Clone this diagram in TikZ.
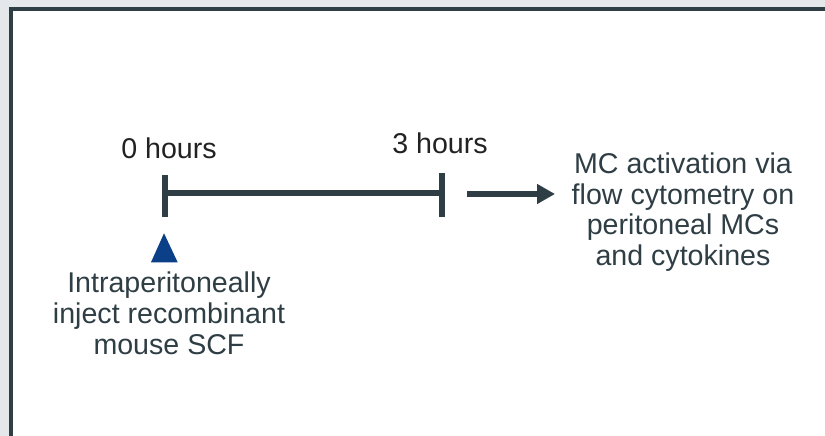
\documentclass[tikz,border=0pt]{standalone}
\usepackage{fontspec}
\setmainfont{Liberation Sans}
\usetikzlibrary{arrows.meta}
\definecolor{bggray}{HTML}{E4E8EA}
\definecolor{slate}{HTML}{2F3E45}
\definecolor{darktxt}{HTML}{222222}
\definecolor{tri}{HTML}{0B3F88}
\tikzset{
  lbl/.style={inner sep=0pt, text=slate, font=\fontsize{28.6}{30.7}\selectfont, align=center},
  hrs/.style={inner sep=0pt, text=darktxt, font=\fontsize{28.6}{30.7}\selectfont, anchor=base},
  tline/.style={draw=slate, line width=5.5pt, line cap=butt},
  arr/.style={draw=slate, line width=6pt, -{Triangle[length=18pt,width=19pt]}}
}
\begin{document}
\begin{tikzpicture}[x=1pt,y=1pt]
\useasboundingbox (0,0) rectangle (825,436);
\fill[bggray] (0,0) rectangle (825,436);
\fill[white] (11,0) rectangle (825,427);
\draw[slate, line width=4pt] (11,-5) -- (11,427) -- (830,427);
% timeline
\coordinate (t0) at (165,243);
\coordinate (t3) at (442,243);
\coordinate (t0top) at (165,261);
\coordinate (t0bot) at (165,219.3);
\coordinate (t3top) at (442,263.3);
\coordinate (t3bot) at (442,219);
\draw[tline] (t0) -- (t3);
\draw[tline] (t0top) -- (t0bot);
\draw[tline] (t3top) -- (t3bot);
% arrow
\coordinate (a0) at (467,242);
\coordinate (a1) at (555,242);
\draw[arr] (a0) -- (a1);
% triangle marker
\coordinate (tp) at (164,202.7);
\coordinate (tl) at (151,173.7);
\coordinate (tr) at (177.7,173.7);
\fill[tri] (tp) -- (tl) -- (tr) -- cycle;
% labels
\node[hrs] (h0) at (169,277.7) {0 hours};
\node[hrs] (h3) at (440,282.7) {3 hours};
\node[lbl, anchor=north] (inj) at (169,164) {Intraperitoneally\\inject recombinant\\mouse SCF};
\node[lbl, anchor=north] (mc) at (683,283.4) {MC activation via\\flow cytometry on\\peritoneal MCs\\and cytokines};
\end{tikzpicture}
\end{document}
